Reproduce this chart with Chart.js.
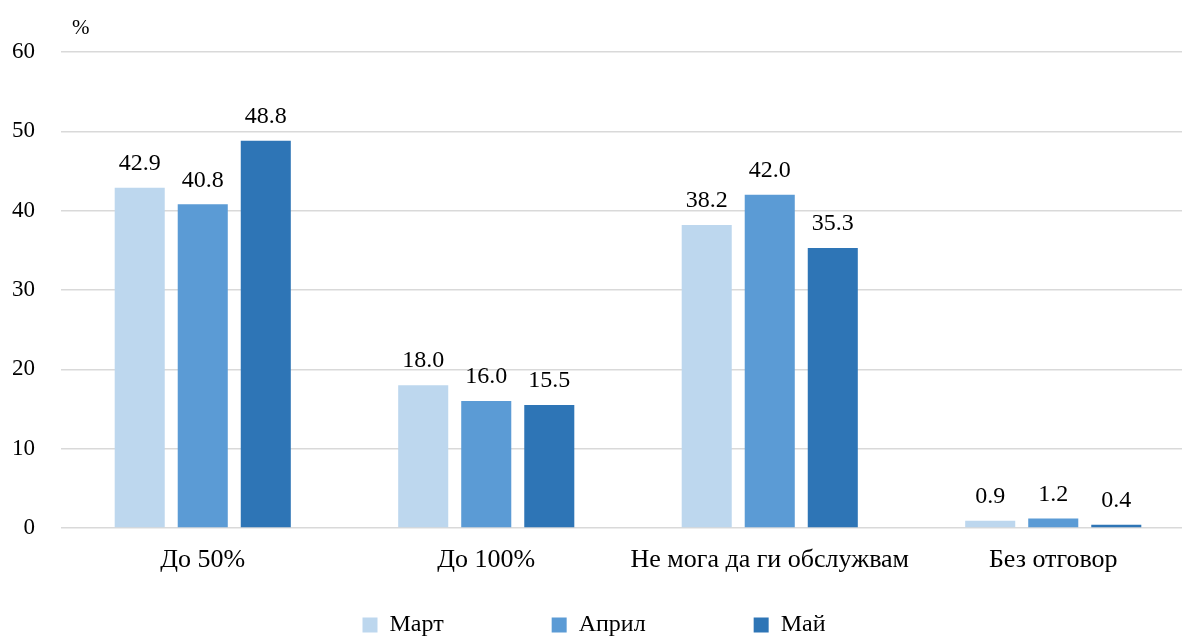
<!DOCTYPE html>
<html>
<head>
<meta charset="utf-8">
<script src="https://cdn.jsdelivr.net/npm/chart.js@4/dist/chart.umd.min.js"></script>
<style>
  html, body { margin: 0; padding: 0; background: #fff; }
  canvas { display: block; }
</style>
</head>
<body>
<canvas id="chart" width="1182" height="641"></canvas>
<script>
var categories = ['До 50%', 'До 100%', 'Не мога да ги обслужвам', 'Без отговор'];
var seriesNames = ['Март', 'Април', 'Май'];
var march = [42.9, 18.0, 38.2, 0.9];
var april = [40.8, 16.0, 42.0, 1.2];
var may = [48.8, 15.5, 35.3, 0.4];
var yTicks = [0, 10, 20, 30, 40, 50, 60];
var colors = ['#BDD7EE', '#5B9BD5', '#2E75B6'];

var serif = '"Liberation Serif", "Times New Roman", serif';

// draws the value above each bar
var barLabels = {
  id: 'barLabels',
  afterDatasetsDraw: function(chart){
    var ctx = chart.ctx;
    ctx.save();
    ctx.font = '24px ' + serif;
    ctx.fillStyle = '#000';
    ctx.textAlign = 'center';
    ctx.textBaseline = 'middle';
    chart.data.datasets.forEach(function(ds, i){
      chart.getDatasetMeta(i).data.forEach(function(bar, j){
        ctx.fillText(ds.data[j].toFixed(1), bar.x, bar.y - 24);
      });
    });
    ctx.restore();
  }
};

// the "%" unit above the y axis
var unitLabel = {
  id: 'unitLabel',
  afterDraw: function(chart){
    var ctx = chart.ctx;
    ctx.save();
    ctx.font = '21px ' + serif;
    ctx.fillStyle = '#000';
    ctx.textAlign = 'left';
    ctx.textBaseline = 'middle';
    ctx.fillText('%', 72, 28);
    ctx.restore();
  }
};

// legend padding also adds height, so keep the box small and move it after layout;
// the original plot runs a bit past the right edge, so stretch the x scale too
var legendPlace = {
  id: 'legendPlace',
  afterLayout: function(chart){
    var lg = chart.legend;
    var pad = lg.options.labels.padding;
    lg.top = 613 - pad;
    lg.bottom = 641;
    lg.height = lg.bottom - lg.top;
    lg.left += 3;
    lg.right += 3;

    var x = chart.scales.x;
    x.right = 1195;
    x.width = x.right - x.left;
    x.configure();
  }
};

var ctx = document.getElementById('chart').getContext('2d');
var chart = new Chart(ctx, {
  type: 'bar',
  data: {
    labels: categories,
    datasets: [march, april, may].map(function(d, i){
      return {
        label: seriesNames[i],
        data: d,
        backgroundColor: colors[i],
        borderWidth: 0,
        categoryPercentage: 0.667,
        barPercentage: 0.794
      };
    })
  },
  options: {
    responsive: false,
    animation: false,
    layout: { padding: { top: 52, right: 0, left: 0, bottom: 0 } },
    scales: {
      x: {
        grid: { display: false },
        border: { display: false },
        ticks: { color: '#000', font: { family: serif, size: 26 }, padding: 9, maxRotation: 0, autoSkip: false },
        afterFit: function(axis){ axis.height = 73; }
      },
      y: {
        min: 0,
        max: 60,
        afterBuildTicks: function(axis){ axis.ticks = yTicks.map(function(v){ return { value: v }; }); },
        grid: { color: '#D9D9D9', lineWidth: 1.5, drawTicks: false },
        border: { display: false },
        ticks: { color: '#000', font: { family: serif, size: 23 }, padding: 26 },
        afterFit: function(axis){ axis.width = 61; }
      }
    },
    plugins: {
      legend: {
        position: 'bottom',
        maxHeight: 40,
        labels: {
          color: '#000',
          font: { family: serif, size: 24 },
          boxWidth: 15,
          boxHeight: 15,
          padding: 108
        }
      },
      tooltip: { enabled: false }
    }
  },
  plugins: [barLabels, unitLabel, legendPlace]
});
</script>
</body>
</html>
